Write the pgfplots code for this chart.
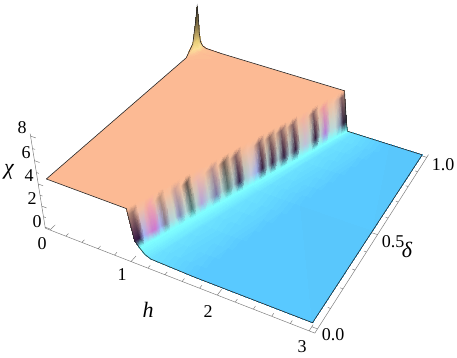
\documentclass[border=0pt]{standalone}
\usepackage{pgfplots}
\usepackage{pgfplotstable}
\usepackage{fontspec}
\setmainfont{Liberation Serif}
\newfontfamily\lab{Liberation Serif}
\pgfplotsset{compat=1.18}
% perspective projection of (h, delta, chi) onto the picture plane
\newcommand{\DEN}{(1-0.03*\thisrow{h}+0.2*(\thisrow{d}+0.02)-0.0122*(\thisrow{c}+0.1))}
\newcommand{\PX}{(50+77.1*\thisrow{h}+185*(\thisrow{d}+0.02)-2.196*(\thisrow{c}+0.1))/\DEN}
\newcommand{\PY}{(230+23.7*\thisrow{h}-125*(\thisrow{d}+0.02)-13.05*(\thisrow{c}+0.1))/\DEN}
\pgfplotsset{/pgfplots/table/proj/.style={x expr={\PX},y expr={\PY}}}
\definecolor{orangeS}{rgb}{0.99,0.73,0.58}
\definecolor{axisG}{gray}{0.5}
\pgfplotstableread{
h d c col
0.94 0 4.3 0.99,0.73,0.58
0.955 0 3.7 0.72,0.55,0.48
1.015 0 1.6 0.25,0.12,0.30
1.07 0 1.1 0.5,1,1
0.961 0.021 4.285 0.99,0.73,0.58
0.976 0.021 3.687 0.60,0.44,0.40
1.036 0.021 1.585 0.18,0.10,0.25
1.091 0.021 1.077 0.5,1,1
0.98 0.04 4.272 0.99,0.73,0.58
0.995 0.04 3.675 0.95,0.74,0.64
1.055 0.04 1.572 0.65,0.70,0.95
1.109 0.04 1.056 0.5,1,1
1.0 0.061 4.257 0.99,0.73,0.58
1.015 0.061 3.662 0.95,0.74,0.64
1.076 0.061 1.557 0.80,0.60,0.85
1.13 0.061 1.033 0.5,1,1
1.013 0.074 4.248 0.99,0.73,0.58
1.028 0.074 3.653 0.96,0.68,0.62
1.089 0.074 1.548 0.78,0.50,0.82
1.143 0.074 1.019 0.5,1,1
1.026 0.087 4.239 0.99,0.73,0.58
1.041 0.087 3.645 0.96,0.66,0.66
1.102 0.087 1.539 0.80,0.48,0.82
1.155 0.087 1.004 0.5,1,1
1.046 0.107 4.225 0.99,0.73,0.58
1.061 0.107 3.633 0.95,0.74,0.62
1.122 0.107 1.525 0.65,0.70,0.95
1.175 0.107 0.982 0.5,1,1
1.067 0.128 4.21 0.99,0.73,0.58
1.082 0.128 3.619 0.72,0.56,0.48
1.143 0.128 1.51 0.50,0.48,0.58
1.195 0.128 0.959 0.5,1,1
1.087 0.148 4.196 0.99,0.73,0.58
1.102 0.148 3.607 0.96,0.75,0.62
1.163 0.148 1.496 0.70,0.82,0.85
1.215 0.148 0.937 0.5,1,1
1.107 0.169 4.182 0.99,0.73,0.58
1.122 0.169 3.594 0.96,0.75,0.62
1.184 0.169 1.482 0.72,0.85,0.85
1.236 0.169 0.914 0.5,1,1
1.118 0.18 4.174 0.99,0.73,0.58
1.133 0.18 3.587 0.86,0.68,0.60
1.195 0.18 1.474 0.60,0.65,0.80
1.246 0.18 0.902 0.5,1,1
1.128 0.19 4.167 0.99,0.73,0.58
1.143 0.19 3.58 0.80,0.62,0.58
1.205 0.19 1.467 0.50,0.55,0.70
1.256 0.19 0.891 0.5,1,1
1.153 0.215 4.149 0.99,0.73,0.58
1.168 0.215 3.565 0.96,0.75,0.62
1.23 0.215 1.449 0.72,0.85,0.85
1.281 0.215 0.863 0.5,1,1
1.178 0.24 4.132 0.99,0.73,0.58
1.193 0.24 3.549 0.42,0.34,0.30
1.255 0.24 1.432 0.30,0.48,0.48
1.305 0.24 0.836 0.5,1,1
1.197 0.26 4.118 0.99,0.73,0.58
1.212 0.26 3.536 0.94,0.74,0.62
1.275 0.26 1.418 0.68,0.82,0.82
1.325 0.26 0.814 0.5,1,1
1.22 0.283 4.102 0.99,0.73,0.58
1.235 0.283 3.522 0.94,0.72,0.66
1.298 0.283 1.402 0.70,0.65,0.85
1.347 0.283 0.789 0.5,1,1
1.253 0.316 4.079 0.99,0.73,0.58
1.268 0.316 3.501 0.96,0.75,0.62
1.331 0.316 1.379 0.70,0.82,0.85
1.38 0.316 0.752 0.5,1,1
1.286 0.349 4.056 0.99,0.73,0.58
1.301 0.349 3.48 0.72,0.56,0.54
1.364 0.349 1.356 0.48,0.48,0.65
1.412 0.349 0.716 0.5,1,1
1.311 0.375 4.037 0.99,0.73,0.58
1.326 0.375 3.464 0.96,0.75,0.62
1.39 0.375 1.337 0.68,0.82,0.82
1.438 0.375 0.687 0.5,1,1
1.337 0.401 4.019 0.99,0.73,0.58
1.352 0.401 3.447 0.45,0.36,0.32
1.416 0.401 1.319 0.32,0.46,0.46
1.463 0.401 0.659 0.5,1,1
1.364 0.428 4.0 0.99,0.73,0.58
1.379 0.428 3.43 0.90,0.72,0.60
1.443 0.428 1.3 0.65,0.78,0.80
1.489 0.428 0.629 0.5,1,1
1.39 0.455 3.981 0.99,0.73,0.58
1.405 0.455 3.413 0.52,0.38,0.38
1.47 0.455 1.281 0.20,0.15,0.30
1.516 0.455 0.599 0.5,1,1
1.417 0.482 3.963 0.99,0.73,0.58
1.432 0.482 3.396 0.92,0.72,0.60
1.497 0.482 1.263 0.65,0.78,0.80
1.542 0.482 0.57 0.5,1,1
1.444 0.509 3.944 0.99,0.73,0.58
1.459 0.509 3.379 0.96,0.75,0.64
1.524 0.509 1.244 0.75,0.80,0.88
1.569 0.509 0.54 0.5,1,1
1.472 0.537 3.924 0.99,0.73,0.58
1.487 0.537 3.362 0.92,0.72,0.62
1.552 0.537 1.224 0.62,0.68,0.90
1.596 0.537 0.509 0.5,1,1
1.499 0.565 3.904 0.99,0.73,0.58
1.514 0.565 3.344 0.52,0.38,0.38
1.58 0.565 1.204 0.20,0.12,0.25
1.624 0.565 0.478 0.5,1,1
1.524 0.59 3.887 0.99,0.73,0.58
1.539 0.59 3.328 0.90,0.72,0.60
1.605 0.59 1.187 0.65,0.78,0.80
1.648 0.59 0.451 0.5,1,1
1.548 0.614 3.87 0.99,0.73,0.58
1.563 0.614 3.313 0.55,0.41,0.38
1.629 0.614 1.17 0.22,0.14,0.27
1.672 0.614 0.425 0.5,1,1
1.576 0.642 3.851 0.99,0.73,0.58
1.591 0.642 3.296 0.90,0.72,0.60
1.657 0.642 1.151 0.65,0.78,0.80
1.699 0.642 0.394 0.5,1,1
1.604 0.671 3.83 0.99,0.73,0.58
1.619 0.671 3.277 0.52,0.38,0.38
1.686 0.671 1.13 0.20,0.12,0.25
1.728 0.671 0.362 0.5,1,1
1.633 0.70 3.81 0.99,0.73,0.58
1.648 0.70 3.259 0.90,0.72,0.60
1.715 0.70 1.11 0.65,0.78,0.80
1.756 0.70 0.33 0.5,1,1
1.663 0.73 3.789 0.99,0.73,0.58
1.678 0.73 3.24 0.52,0.38,0.38
1.745 0.73 1.089 0.20,0.12,0.25
1.785 0.73 0.297 0.5,1,1
1.687 0.755 3.771 0.99,0.73,0.58
1.702 0.755 3.224 0.94,0.74,0.62
1.77 0.755 1.071 0.70,0.82,0.82
1.81 0.755 0.269 0.5,1,1
1.713 0.781 3.753 0.99,0.73,0.58
1.728 0.781 3.208 0.95,0.70,0.62
1.796 0.781 1.053 0.75,0.75,0.85
1.835 0.781 0.241 0.5,1,1
1.739 0.807 3.735 0.99,0.73,0.58
1.754 0.807 3.192 0.94,0.74,0.62
1.822 0.807 1.035 0.70,0.82,0.82
1.861 0.807 0.212 0.5,1,1
1.766 0.834 3.716 0.99,0.73,0.58
1.781 0.834 3.175 0.52,0.38,0.38
1.849 0.834 1.016 0.20,0.12,0.25
1.887 0.834 0.183 0.5,1,1
1.791 0.86 3.698 0.99,0.73,0.58
1.806 0.86 3.158 0.94,0.74,0.62
1.875 0.86 0.998 0.70,0.82,0.82
1.913 0.86 0.154 0.5,1,1
1.818 0.887 3.679 0.99,0.73,0.58
1.833 0.887 3.141 0.92,0.60,0.62
1.902 0.887 0.979 0.70,0.50,0.85
1.939 0.887 0.124 0.5,1,1
1.845 0.914 3.66 0.99,0.73,0.58
1.86 0.914 3.124 0.95,0.74,0.62
1.929 0.914 0.96 0.72,0.85,0.85
1.966 0.914 0.095 0.5,1,1
1.872 0.941 3.641 0.99,0.73,0.58
1.887 0.941 3.107 0.96,0.76,0.64
1.956 0.941 0.941 0.75,0.85,0.85
1.992 0.941 0.065 0.5,1,1
1.898 0.968 3.622 0.99,0.73,0.58
1.913 0.968 3.09 0.82,0.66,0.60
1.983 0.968 0.922 0.55,0.60,0.70
2.019 0.968 0.035 0.5,1,1
1.915 0.985 3.61 0.99,0.73,0.58
1.93 0.985 3.079 0.52,0.38,0.38
2.0 0.985 0.91 0.20,0.15,0.25
2.035 0.985 0.016 0.5,1,1
1.93 1 3.6 0.99,0.73,0.58
1.945 1 3.07 0.58,0.45,0.42
2.015 1 0.9 0.15,0.15,0.22
2.05 1 0 0.5,1,1
}\cliff
\pgfplotstableread{
h d c col
1.07 0 1.1 0.5,1,1
1.13 0 0.65 0.46,0.94,1
1.2 0 0.42 0.42,0.88,1
1.7 0 0.3 0.35,0.79,1
3 0 0.3 0.35,0.78,0.99
1.56 0.5 0.55 0.5,1,1
1.61 0.5 0.32 0.46,0.94,1
1.675 0.5 0.21 0.42,0.88,1
2.15 0.5 0.15 0.35,0.79,1
3 0.5 0.15 0.35,0.78,0.99
2.05 1 0 0.5,1,1
2.09 1 0 0.46,0.94,1
2.15 1 0 0.42,0.88,1
2.6 1 0 0.35,0.79,1
3 1 0 0.35,0.78,0.99
}\tail
\pgfplotstableread{
h d c col
0 1 4.9 0.72,0.62,0.42
0.02 1 4.1 0.96,0.85,0.58
0.05 1 3.8 0.99,0.78,0.60
0.1 1 3.65 0.99,0.73,0.58
0.3 1 3.6 0.99,0.73,0.58
0 0.99 6.4 0.42,0.36,0.26
0.02 0.99 4.6 0.85,0.75,0.48
0.05 0.99 3.9 0.98,0.84,0.60
0.1 0.99 3.68 0.99,0.74,0.58
0.3 0.99 3.61 0.99,0.73,0.58
0 0.98 7.4 0.30,0.27,0.20
0.02 0.98 4.9 0.72,0.62,0.38
0.05 0.98 4.0 0.98,0.88,0.60
0.1 0.98 3.7 0.99,0.76,0.58
0.3 0.98 3.62 0.99,0.73,0.58
0 0.97 6.2 0.40,0.35,0.22
0.02 0.97 4.5 0.90,0.80,0.45
0.05 0.97 3.85 0.98,0.88,0.60
0.1 0.97 3.7 0.99,0.76,0.58
0.3 0.97 3.62 0.99,0.73,0.58
0 0.95 4.4 0.90,0.78,0.50
0.02 0.95 3.9 0.99,0.88,0.60
0.05 0.95 3.75 0.99,0.80,0.60
0.1 0.95 3.67 0.99,0.74,0.58
0.3 0.95 3.64 0.99,0.73,0.58
0 0.9 3.67 0.99,0.73,0.58
0.02 0.9 3.67 0.99,0.73,0.58
0.05 0.9 3.67 0.99,0.73,0.58
0.1 0.9 3.67 0.99,0.73,0.58
0.3 0.9 3.67 0.99,0.73,0.58
}\spike
\pgfplotstableread{
h d c
0 0 4.3
0 0.9 3.67
0.3 0.9 3.67
0.3 1 3.6
1.93 1 3.6
0.94 0 4.3
0 0 4.3
}\plateau
\pgfplotstableread{
h d c
0 0 4.3
0 0.5 3.95
0 0.9 3.67
0 0.95 4.4
0 0.97 6.2
0 0.98 7.4
0 0.99 6.4
0 1 4.9
0.02 1 4.1
0.05 1 3.8
0.1 1 3.65
0.3 1 3.6
1.93 1 3.6
1.945 1 3.07
2.015 1 0.9
2.05 1 0
2.09 1 0
2.15 1 0
3 1 0
3 0 0.3
1.7 0 0.3
1.2 0 0.42
1.13 0 0.65
1.07 0 1.1
1.015 0 1.6
0.955 0 3.7
0.94 0 4.3
0 0 4.3
}\outline
\pgfplotstableread{
h d c
-0.06 -0.02 -0.1
0 -0.02 -0.1
0 0.01 -0.1
0 -0.02 -0.1
0.2 -0.02 -0.1
0.2 -0.005 -0.1
0.2 -0.02 -0.1
0.4 -0.02 -0.1
0.4 -0.005 -0.1
0.4 -0.02 -0.1
0.6 -0.02 -0.1
0.6 -0.005 -0.1
0.6 -0.02 -0.1
0.8 -0.02 -0.1
0.8 -0.005 -0.1
0.8 -0.02 -0.1
1 -0.02 -0.1
1 0.01 -0.1
1 -0.02 -0.1
1.2 -0.02 -0.1
1.2 -0.005 -0.1
1.2 -0.02 -0.1
1.4 -0.02 -0.1
1.4 -0.005 -0.1
1.4 -0.02 -0.1
1.6 -0.02 -0.1
1.6 -0.005 -0.1
1.6 -0.02 -0.1
1.8 -0.02 -0.1
1.8 -0.005 -0.1
1.8 -0.02 -0.1
2 -0.02 -0.1
2 0.01 -0.1
2 -0.02 -0.1
2.2 -0.02 -0.1
2.2 -0.005 -0.1
2.2 -0.02 -0.1
2.4 -0.02 -0.1
2.4 -0.005 -0.1
2.4 -0.02 -0.1
2.6 -0.02 -0.1
2.6 -0.005 -0.1
2.6 -0.02 -0.1
2.8 -0.02 -0.1
2.8 -0.005 -0.1
2.8 -0.02 -0.1
3 -0.02 -0.1
3 0.01 -0.1
3 -0.02 -0.1
3.06 -0.02 -0.1
3.06 0 -0.1
3 0 -0.1
3.06 0 -0.1
3.06 0.1 -0.1
3.03 0.1 -0.1
3.06 0.1 -0.1
3.06 0.2 -0.1
3.03 0.2 -0.1
3.06 0.2 -0.1
3.06 0.3 -0.1
3.03 0.3 -0.1
3.06 0.3 -0.1
3.06 0.4 -0.1
3.03 0.4 -0.1
3.06 0.4 -0.1
3.06 0.5 -0.1
3.0 0.5 -0.1
3.06 0.5 -0.1
3.06 0.6 -0.1
3.03 0.6 -0.1
3.06 0.6 -0.1
3.06 0.7 -0.1
3.03 0.7 -0.1
3.06 0.7 -0.1
3.06 0.8 -0.1
3.03 0.8 -0.1
3.06 0.8 -0.1
3.06 0.9 -0.1
3.03 0.9 -0.1
3.06 0.9 -0.1
3.06 1 -0.1
3.0 1 -0.1
3.06 1 -0.1
3.06 1.02 -0.1
}\floorticks
\pgfplotstableread{
h d c
-0.06 -0.02 -0.1
-0.06 -0.02 0
0 -0.02 0
-0.06 -0.02 0
-0.06 -0.02 1
-0.03 -0.02 1
-0.06 -0.02 1
-0.06 -0.02 2
0 -0.02 2
-0.06 -0.02 2
-0.06 -0.02 3
-0.03 -0.02 3
-0.06 -0.02 3
-0.06 -0.02 4
0 -0.02 4
-0.06 -0.02 4
-0.06 -0.02 5
-0.03 -0.02 5
-0.06 -0.02 5
-0.06 -0.02 6
0 -0.02 6
-0.06 -0.02 6
-0.06 -0.02 7
-0.03 -0.02 7
-0.06 -0.02 7
-0.06 -0.02 8
0 -0.02 8
-0.06 -0.02 8
-0.06 -0.02 8.2
}\chiticks
\begin{document}
\begin{tikzpicture}
\begin{axis}[
  scale only axis, width=457pt, height=357pt,
  xmin=0, xmax=457, ymin=0, ymax=357, y dir=reverse,
  hide axis, clip=false,
]
\path (axis cs:0,0) rectangle (axis cs:457,357);
\addplot[draw=axisG, line width=0.5pt] table[proj] {\floorticks};
\addplot[draw=axisG, line width=0.5pt] table[proj] {\chiticks};
\addplot[fill=orangeS, draw=none] table[proj] {\plateau};
\addplot[surf, shader=interp, mesh/color input=explicit, mesh/cols=5] table[proj, meta=col] {\spike};
\addplot[surf, shader=interp, mesh/color input=explicit, mesh/cols=5] table[proj, meta=col] {\tail};
\addplot[surf, shader=interp, mesh/color input=explicit, mesh/cols=4] table[proj, meta=col] {\cliff};
\addplot[draw=black!85, line width=0.6pt] table[proj] {\outline};
\begin{scope}[every node/.style={font=\lab\fontsize{18}{18}\selectfont, inner sep=0pt}]
\node at (axis cs:37,222) {0};
\node at (axis cs:32,199) {2};
\node at (axis cs:29,176) {4};
\node at (axis cs:26,153) {6};
\node at (axis cs:22,128) {8};
\node at (axis cs:42,244) {0};
\node at (axis cs:122,275) {1};
\node at (axis cs:208,312) {2};
\node at (axis cs:302,347) {3};
\node at (axis cs:333,335) {0.0};
\node at (axis cs:393,242) {0.5};
\node at (axis cs:443,165) {1.0};
\node[font=\lab\fontsize{22}{22}\selectfont\itshape] at (axis cs:9,172) {χ};
\node[font=\lab\fontsize{22}{22}\selectfont\itshape] at (axis cs:148,310) {h};
\node[font=\lab\fontsize{22}{22}\selectfont\itshape] at (axis cs:407,250) {δ};
\end{scope}
\end{axis}
\end{tikzpicture}
\end{document}
